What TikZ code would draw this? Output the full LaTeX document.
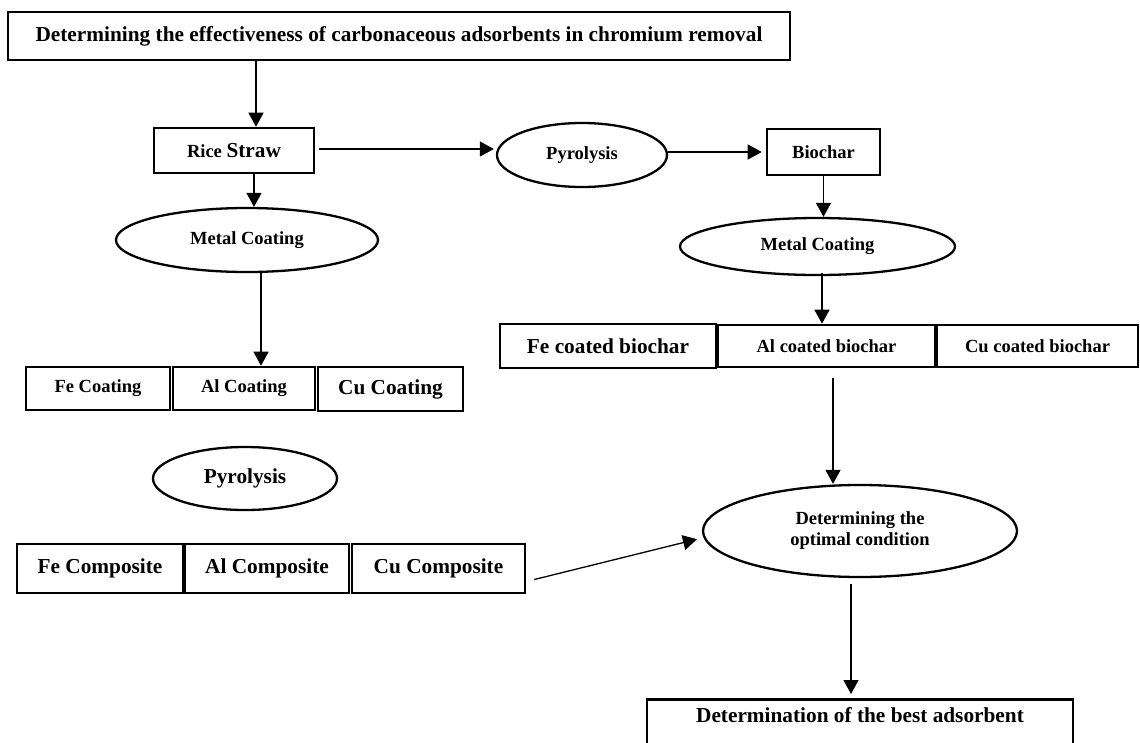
\documentclass[tikz,border=0pt]{standalone}
\usepackage{fontspec}
\setmainfont{Liberation Serif}
\usetikzlibrary{shapes.geometric,arrows.meta}
\newcommand\smtxt{\fontsize{18.5}{21}\selectfont}
\newcommand\bigtxt{\fontsize{21.3}{24}\selectfont}

\begin{document}
\begin{tikzpicture}[x=1pt,y=-1pt,
    box/.style={draw,line width=2.6pt,inner sep=0pt,font=\bfseries\smtxt},
    oval/.style={draw,ellipse,line width=2.3pt,inner sep=0pt,font=\bfseries\smtxt},
    arr/.style={-{Triangle[length=14pt,width=15pt]},line width=1.3pt}]
    \useasboundingbox (0,0) rectangle (1140,742);
    \clip (0,0) rectangle (1140,742);
    % top of the chart
    \node[box,minimum width=782pt,minimum height=48pt,font=\bfseries\bigtxt] (title) at (399,36)
        {Determining the effectiveness of carbonaceous adsorbents in chromium removal};
    \node[box,minimum width=160pt,minimum height=45pt] (rice) at (234,150.5) {Rice {\bigtxt Straw}};
    \node[oval,minimum width=170pt,minimum height=64pt] (pyrA) at (582,155) {Pyrolysis};
    \node[box,minimum width=113pt,minimum height=46pt] (bio) at (823.5,152) {Biochar};
    % left branch
    \node[oval,minimum width=262pt,minimum height=64pt] (mcl) at (247,240) {Metal Coating};
    \node[box,minimum width=144pt,minimum height=43pt] (fec) at (98,388.5) {Fe Coating};
    \node[box,minimum width=142pt,minimum height=43pt] (alc) at (244,388.5) {Al Coating};
    \node[box,minimum width=145pt,minimum height=44pt,font=\bfseries\bigtxt] (cuc) at (390.5,389) {Cu Coating};
    \node[oval,minimum width=184pt,minimum height=63pt,font=\bfseries\bigtxt] (pyrB) at (245,478.5) {Pyrolysis};
    \node[box,minimum width=166pt,minimum height=49pt,font=\bfseries\bigtxt] (fecomp) at (100,568.5) {Fe Composite};
    \node[box,minimum width=164pt,minimum height=49pt,font=\bfseries\bigtxt] (alcomp) at (267,568.5) {Al Composite};
    \node[box,minimum width=173pt,minimum height=49pt,font=\bfseries\bigtxt] (cucomp) at (438.5,568.5) {Cu Composite};
    % right branch
    \node[oval,minimum width=275pt,minimum height=57pt] (mcr) at (817.5,246.5) {Metal Coating};
    \node[box,minimum width=216pt,minimum height=44pt,font=\bfseries\bigtxt] (febio) at (608,346) {Fe coated biochar};
    \node[box,minimum width=217pt,minimum height=42pt] (albio) at (826.5,346) {Al coated biochar};
    \node[box,minimum width=201pt,minimum height=42pt] (cubio) at (1037.5,346) {Cu coated biochar};
    \node[oval,minimum width=314pt,minimum height=92pt,align=center,font=\bfseries\smtxt] (opt) at (860,531)
        {Determining the\\optimal condition};
    \node[box,anchor=north,minimum width=426pt,text height=23pt,text depth=40pt,font=\bfseries\bigtxt] (best) at (860,698)
        {Determination of the best adsorbent};
    % arrows
    \draw[arr] ([xshift=22pt]rice.north |- title.south) -- ([xshift=22pt]rice.north);
    \draw[arr,shorten <=4pt,shorten >=2pt] ([yshift=1.5pt]rice.east) -- ([yshift=1.5pt]rice.east -| pyrA.west);
    \draw[arr,shorten >=4pt] (pyrA.east |- bio.west) -- (bio.west);
    \draw[arr] ([xshift=20pt]rice.south) -- ([xshift=20pt]rice.south |- mcl.north);
    \draw[arr] (bio.south) -- (bio.south |- mcr.north);
    \draw[arr] ([xshift=14pt]mcl.south) -- ([xshift=14pt]mcl.south |- alc.north);
    \draw[arr] ([xshift=4.5pt,yshift=3pt]mcr.south) -- ([xshift=4.5pt]mcr.south |- albio.north);
    \draw[arr] ([xshift=6.5pt,yshift=-10pt]albio.south) -- ([xshift=6.5pt]albio.south |- opt.north);
    \draw[arr,shorten >=5pt] ([xshift=8pt,yshift=-11pt]cucomp.east) -- ([yshift=-7pt]opt.west);
    \draw[arr,shorten >=4pt] ([xshift=-9pt,yshift=-6pt]opt.south) -- ([xshift=-9pt]opt.south |- best.north);
\end{tikzpicture}
\end{document}
